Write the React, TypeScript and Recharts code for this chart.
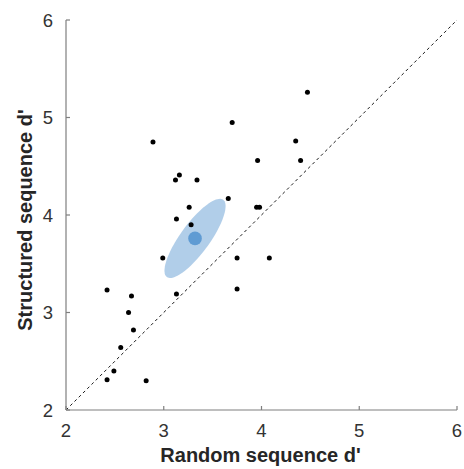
import React from 'react';
import { ScatterChart, Scatter, XAxis, YAxis, ReferenceLine, Label } from 'recharts';

// Per-participant d' values
const randomD = [2.89, 3.70, 4.47, 3.16, 3.12, 3.34, 4.35, 3.96, 4.40, 3.26, 3.66, 3.95, 3.98, 3.13, 3.28, 2.99, 3.75, 4.08, 3.75, 3.13, 2.42, 2.67, 2.64, 2.69, 2.56, 2.49, 2.42, 2.82];
const structuredD = [4.75, 4.95, 5.26, 4.41, 4.36, 4.36, 4.76, 4.56, 4.56, 4.08, 4.17, 4.08, 4.08, 3.96, 3.90, 3.56, 3.56, 3.56, 3.24, 3.19, 3.23, 3.17, 3.00, 2.82, 2.64, 2.40, 2.31, 2.30];

// Group mean and confidence ellipse (data units)
const meanX = [3.32];
const meanY = [3.76];
const ellipseSemiMajor = 0.49;
const ellipseSemiMinor = 0.15;
const ellipseAngleDeg = 54;

const xTicks = [2, 3, 4, 5, 6];
const yTicks = [2, 3, 4, 5, 6];
const identityLine = [{ x: 2, y: 2 }, { x: 6, y: 6 }];

const points = randomD.map((x, i) => ({ x, y: structuredD[i] }));
const meanPoints = meanX.map((x, i) => ({ x, y: meanY[i] }));

const ellipseOutline = (() => {
  const out: { x: number; y: number }[] = [];
  const th = (ellipseAngleDeg * Math.PI) / 180;
  const n = 90;
  for (let k = 0; k < n; k++) {
    const t = (2 * Math.PI * k) / n;
    const a = ellipseSemiMajor * Math.cos(t);
    const b = ellipseSemiMinor * Math.sin(t);
    out.push({
      x: meanX[0] + a * Math.cos(th) - b * Math.sin(th),
      y: meanY[0] + a * Math.sin(th) + b * Math.cos(th),
    });
  }
  return out;
})();

const FONT = '"Liberation Sans", Arial, Helvetica, sans-serif';
const AXIS_COLOR = '#7f7f7f';
const TICK_COLOR = '#333333';

const EllipseFill = (p: any) => {
  const pts: { x: number; y: number }[] = p.points || [];
  if (!pts.length) return <g />;
  const d = pts.map((q, i) => `${i ? 'L' : 'M'}${q.x},${q.y}`).join(' ') + ' Z';
  return <path d={d} fill="#b1cee9" stroke="none" />;
};

const YLabel = (p: any) => {
  const vb = p.viewBox || { x: 0, y: 0, width: 0, height: 0 };
  const cx = vb.x + 32;
  const cy = vb.y + vb.height / 2 + 5;
  return (
    <text
      x={cx}
      y={cy}
      transform={`rotate(-90 ${cx} ${cy})`}
      textAnchor="middle"
      fontFamily={FONT}
      fontWeight="bold"
      fontSize={20}
      fill="#262626"
    >
      Structured sequence d'
    </text>
  );
};

const XLabel = (p: any) => {
  const vb = p.viewBox || { x: 0, y: 0, width: 0, height: 0 };
  const cx = vb.x + vb.width / 2 - 1;
  const cy = vb.y + vb.height - 7;
  return (
    <text x={cx} y={cy} textAnchor="middle" fontFamily={FONT} fontWeight="bold" fontSize={20} fill="#262626">
      Random sequence d'
    </text>
  );
};

export default function App() {
  return (
    <div style={{ position: 'absolute', left: 0, top: 0, background: '#fff' }}>
      <ScatterChart width={464} height={469} margin={{ top: 20, right: 7, bottom: 0, left: 0 }}>
        <XAxis
          type="number"
          dataKey="x"
          domain={[2, 6]}
          ticks={xTicks}
          allowDataOverflow
          height={59}
          axisLine={{ stroke: AXIS_COLOR, strokeWidth: 1.2 }}
          tickLine={{ stroke: AXIS_COLOR, strokeWidth: 1.2 }}
          tickSize={-4}
          tickMargin={18}
          tick={{ fill: TICK_COLOR, fontSize: 18.5, fontFamily: FONT }}
        >
          <Label content={XLabel} />
        </XAxis>
        <YAxis
          type="number"
          dataKey="y"
          domain={[2, 6]}
          ticks={yTicks}
          allowDataOverflow
          width={66}
          axisLine={{ stroke: AXIS_COLOR, strokeWidth: 1.2 }}
          tickLine={{ stroke: AXIS_COLOR, strokeWidth: 1.2 }}
          tickSize={-4}
          tickMargin={17}
          tick={{ fill: TICK_COLOR, fontSize: 18.5, fontFamily: FONT }}
        >
          <Label content={YLabel} />
        </YAxis>
        <ReferenceLine
          segment={identityLine}
          stroke="#1a1a1a"
          strokeWidth={1}
          strokeDasharray="3 3"
          ifOverflow="visible"
        />
        <Scatter
          data={ellipseOutline}
          isAnimationActive={false}
          line={EllipseFill}
          lineType="joint"
          shape={() => <g />}
        />
        <Scatter
          data={points}
          isAnimationActive={false}
          fill="#000"
          shape={(p: any) => <circle cx={p.cx} cy={p.cy} r={2.5} fill="#000" />}
        />
        <Scatter
          data={meanPoints}
          isAnimationActive={false}
          fill="#5b9bd5"
          shape={(p: any) => <circle cx={p.cx} cy={p.cy} r={6.8} fill="#5f9bd3" />}
        />
      </ScatterChart>
    </div>
  );
}
